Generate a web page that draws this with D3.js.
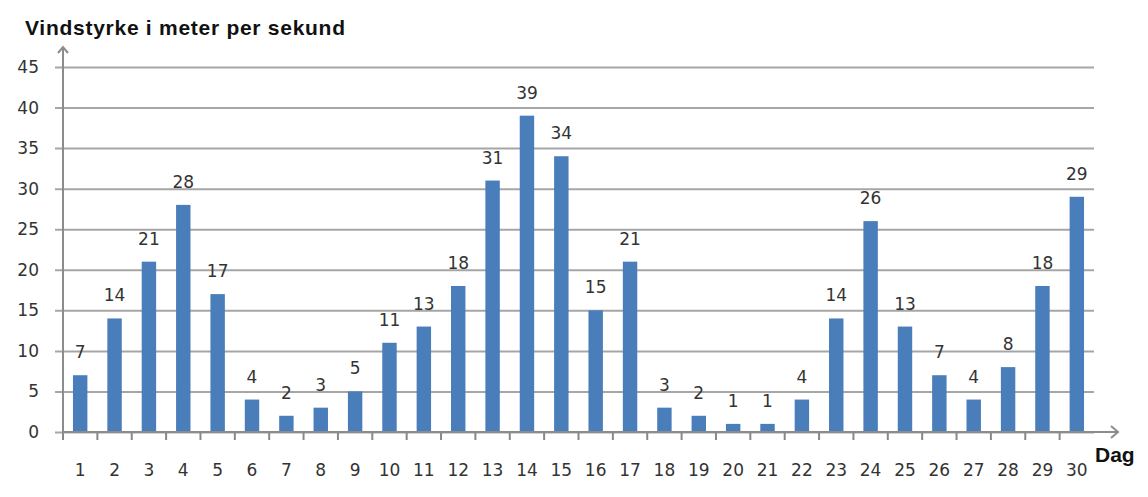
<!DOCTYPE html>
<html>
<head>
<meta charset="utf-8">
<script src="https://cdn.jsdelivr.net/npm/d3@7"></script>
<style>
  body { margin: 0; background: #fff; }
  svg { display: block; }
  .num { font-family: "DejaVu Sans", Verdana, sans-serif; }
  .ttl { font-family: "Liberation Sans", Arial, sans-serif; font-weight: bold; }
</style>
</head>
<body>
<script>
// data
const days = d3.range(1, 31).map(String);
const windSpeed = [7, 14, 21, 28, 17, 4, 2, 3, 5, 11, 13, 18, 31, 39, 34,
                   15, 21, 3, 2, 1, 1, 4, 14, 26, 13, 7, 4, 8, 18, 29];
const yTicks = [0, 5, 10, 15, 20, 25, 30, 35, 40, 45];
const title = "Vindstyrke i meter per sekund";
const xTitle = "Dag";

const fullWidth = 1148, fullHeight = 497;
const margin = { top: 67, right: 54, bottom: 65, left: 63 };
const width = fullWidth - margin.left - margin.right;
const height = fullHeight - margin.top - margin.bottom;

const svg = d3.select("body").append("svg")
  .attr("width", fullWidth)
  .attr("height", fullHeight);

const g = svg.append("g")
  .attr("transform", `translate(${margin.left},${margin.top})`);

const x = d3.scaleBand()
  .domain(days)
  .range([0, width])
  .paddingInner(0.58)
  .paddingOuter(0.29);

const y = d3.scaleLinear()
  .domain([0, 45])
  .range([height, 0]);

// gridlines + y tick labels (grid starts a bit left of the axis)
const yAxis = g.append("g")
  .attr("transform", "translate(-8,0)")
  .call(d3.axisLeft(y).tickValues(yTicks).tickSize(-(width + 8)).tickPadding(16));
yAxis.select(".domain").remove();
yAxis.selectAll(".tick line").attr("stroke", "#a6a6a6").attr("stroke-width", 2);
yAxis.selectAll(".tick text")
  .attr("class", "num")
  .attr("fill", "#333")
  .attr("font-size", 17);

// bars
g.append("g")
  .selectAll("rect")
  .data(windSpeed)
  .join("rect")
    .attr("x", (d, i) => x(days[i]))
    .attr("y", d => y(d))
    .attr("width", x.bandwidth())
    .attr("height", d => y(0) - y(d))
    .attr("fill", "#4a7ebb");

// value labels
g.append("g")
  .selectAll("text")
  .data(windSpeed)
  .join("text")
    .attr("class", "num")
    .attr("x", (d, i) => x(days[i]) + x.bandwidth() / 2)
    .attr("y", d => y(d) - 17)
    .attr("text-anchor", "middle")
    .attr("font-size", 17)
    .attr("fill", "#333")
    .text(d => d);

// x axis with tick marks between categories
const step = x.step();
const xAxis = g.append("g").attr("transform", `translate(0,${height})`);
xAxis.selectAll("line.tick")
  .data(d3.range(0, days.length))
  .join("line")
    .attr("class", "tick")
    .attr("x1", i => i * step)
    .attr("x2", i => i * step)
    .attr("y1", 0)
    .attr("y2", 8)
    .attr("stroke", "#888")
    .attr("stroke-width", 2);
xAxis.selectAll("text")
  .data(days)
  .join("text")
    .attr("class", "num")
    .attr("x", d => x(d) + x.bandwidth() / 2)
    .attr("y", 44)
    .attr("text-anchor", "middle")
    .attr("font-size", 17)
    .attr("fill", "#333")
    .text(d => d);

// arrowed axes
const axisColor = "#8c8c8c";
g.append("line")
  .attr("x1", 0).attr("x2", width + 24)
  .attr("y1", height).attr("y2", height)
  .attr("stroke", axisColor).attr("stroke-width", 2);
g.append("path")
  .attr("d", `M${width + 17},${height - 6} L${width + 24},${height} L${width + 17},${height + 6}`)
  .attr("fill", "none").attr("stroke", axisColor).attr("stroke-width", 2);
g.append("line")
  .attr("x1", 0).attr("x2", 0)
  .attr("y1", height).attr("y2", -20)
  .attr("stroke", axisColor).attr("stroke-width", 2);
g.append("path")
  .attr("d", `M-5,-14 L0,-20 L5,-14`)
  .attr("fill", "none").attr("stroke", axisColor).attr("stroke-width", 2);

// titles
svg.append("text")
  .attr("class", "ttl")
  .attr("x", 25)
  .attr("y", 35)
  .attr("font-size", 21)
  .attr("textLength", 320)
  .attr("lengthAdjust", "spacing")
  .attr("fill", "#111")
  .text(title);

svg.append("text")
  .attr("class", "ttl")
  .attr("x", 1095)
  .attr("y", 462)
  .attr("font-size", 21)
  .attr("fill", "#111")
  .text(xTitle);
</script>
</body>
</html>
